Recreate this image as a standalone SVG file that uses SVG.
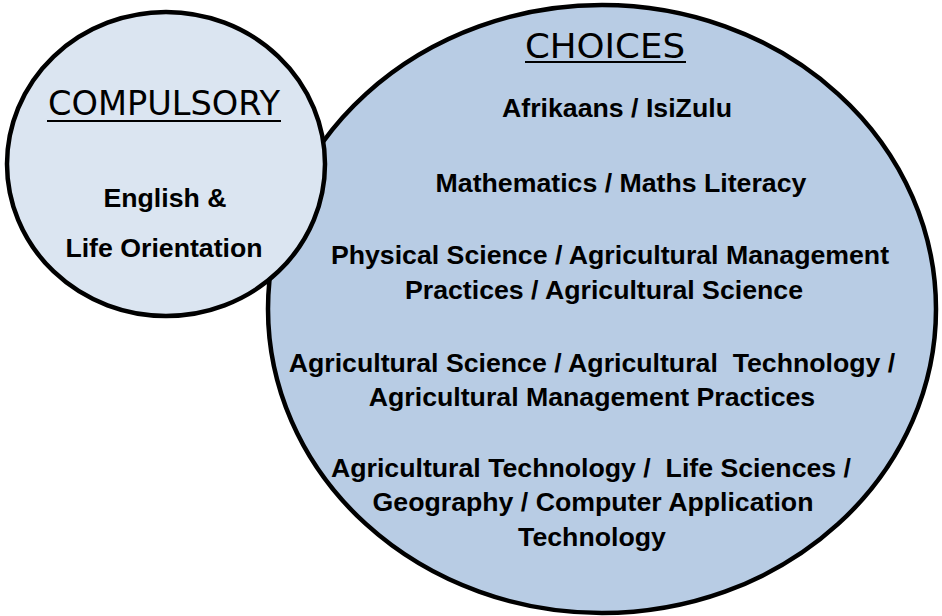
<svg xmlns="http://www.w3.org/2000/svg" width="942" height="616" viewBox="0 0 942 616">
<style>
.circ{stroke:#000;stroke-width:4.5}
.head{font-family:"DejaVu Sans","Liberation Sans",sans-serif;font-weight:normal;fill:#000;text-anchor:start}
.body{font-family:"Liberation Sans",Arial,sans-serif;font-weight:bold;font-size:26.7px;fill:#000;text-anchor:middle}
.ul{stroke:#000;stroke-width:2}
</style>
<rect width="942" height="616" fill="#fff"/>
<g id="choices">
<ellipse class="circ" cx="602" cy="309" rx="334" ry="304" fill="#b8cce4"/>
<text class="head" x="525" y="58" font-size="33" textLength="160" lengthAdjust="spacingAndGlyphs">CHOICES</text>
<line class="ul" x1="525" y1="62" x2="686" y2="62"/>
<text class="body" x="617" y="117">Afrikaans / IsiZulu</text>
<text class="body" x="621" y="192">Mathematics / Maths Literacy</text>
<text class="body" x="610" y="264">Physical Science / Agricultural Management</text>
<text class="body" x="604" y="299">Practices / Agricultural Science</text>
<text class="body" x="592" y="372" xml:space="preserve">Agricultural Science / Agricultural  Technology /</text>
<text class="body" x="592" y="406">Agricultural Management Practices</text>
<text class="body" x="591" y="477" xml:space="preserve">Agricultural Technology /  Life Sciences /</text>
<text class="body" x="593" y="511">Geography / Computer Application</text>
<text class="body" x="592" y="546">Technology</text>
</g>
<g id="compulsory">
<ellipse class="circ" cx="166" cy="164" rx="159" ry="152" fill="#dbe5f1"/>
<text class="head" x="48" y="115" font-size="33" textLength="232" lengthAdjust="spacingAndGlyphs">COMPULSORY</text>
<line class="ul" x1="47" y1="121" x2="281" y2="121"/>
<text class="body" x="165" y="207">English &amp;</text>
<text class="body" x="164" y="257">Life Orientation</text>
</g>
</svg>
